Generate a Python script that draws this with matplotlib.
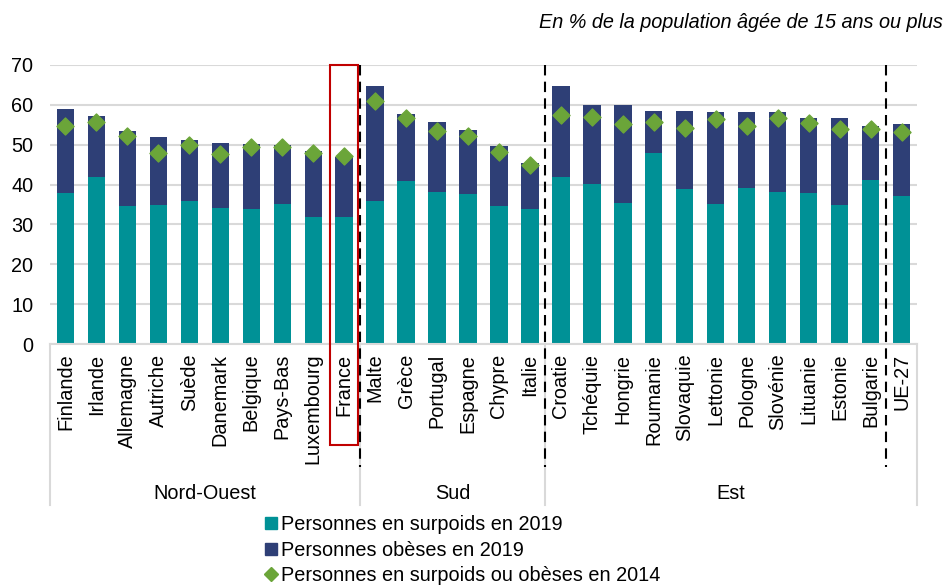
import matplotlib.pyplot as plt
from matplotlib.lines import Line2D
from matplotlib.patches import Rectangle
import matplotlib.transforms as mtransforms

plt.rcParams['font.family'] = ['Liberation Sans', 'DejaVu Sans']

# data
pays = ["Finlande", "Irlande", "Allemagne", "Autriche", "Suède", "Danemark",
        "Belgique", "Pays-Bas", "Luxembourg", "France",
        "Malte", "Grèce", "Portugal", "Espagne", "Chypre", "Italie",
        "Croatie", "Tchéquie", "Hongrie", "Roumanie", "Slovaquie", "Lettonie",
        "Pologne", "Slovénie", "Lituanie", "Estonie", "Bulgarie", "UE-27"]
surpoids_2019 = [38.0, 41.8, 34.5, 35.0, 36.0, 34.0, 33.9, 35.2, 31.9, 31.9,
                 36.0, 41.0, 38.2, 37.7, 34.5, 33.9,
                 41.8, 40.1, 35.3, 47.8, 38.9, 35.2, 39.1, 38.2, 37.9, 34.9, 41.2, 37.2]
total_2019 = [58.9, 57.1, 53.5, 52.0, 51.2, 50.4, 50.1, 49.9, 48.4, 46.9,
              64.8, 57.7, 55.8, 53.8, 49.7, 45.5,
              64.7, 59.9, 59.9, 58.5, 58.5, 58.3, 58.1, 58.1, 56.8, 56.7, 54.7, 55.2]
obeses_2019 = [t - s for t, s in zip(total_2019, surpoids_2019)]
total_2014 = [54.6, 55.7, 52.1, 47.9, 49.9, 47.7, 49.4, 49.4, 47.9, 47.1,
              60.9, 56.7, 53.5, 52.3, 48.2, 44.8,
              57.4, 57.0, 55.2, 55.7, 54.3, 56.4, 54.6, 56.6, 55.5, 54.0, 53.9, 53.1]

groupes = ["Nord-Ouest", "Sud", "Est"]
bornes = [-0.5, 9.5, 15.5, 27.5]

teal = "#009196"
navy = "#2E3F76"
green = "#6BA539"
grid = "#D9D9D9"
fs = 14.3

fig = plt.figure(figsize=(9.49, 5.86), dpi=100)
ax = fig.add_axes([50 / 949, 1 - 344 / 586, 867 / 949, 279 / 586])

x = list(range(len(pays)))
ax.bar(x, surpoids_2019, width=0.56, color=teal, zorder=2)
ax.bar(x, obeses_2019, width=0.56, bottom=surpoids_2019, color=navy, zorder=2)
ax.scatter(x, total_2014, marker="D", s=75, color=green, zorder=3)

ax.set_xlim(-0.5, len(pays) - 0.5)
ax.set_ylim(0, 70)
ax.set_yticks(range(0, 71, 10))
ax.yaxis.grid(True, color=grid, linewidth=1.5, zorder=0)
ax.set_axisbelow(True)
for s in ["top", "right", "left"]:
    ax.spines[s].set_visible(False)
ax.spines["bottom"].set_color(grid)
ax.spines["bottom"].set_linewidth(1.5)
ax.tick_params(axis="y", length=0, labelsize=fs, pad=12)
ax.tick_params(axis="x", length=0, labelsize=fs, pad=7)
ax.set_xticks(x)
ax.set_xticklabels(pays, rotation=90, va="top", ha="center")

# group separators and labels below the axis
trans = mtransforms.blended_transform_factory(ax.transData, ax.transAxes)
for b in bornes:
    ax.plot([b, b], [0, -0.577], color=grid, lw=1.5, transform=trans, clip_on=False)
for g, a, b in zip(groupes, bornes[:-1], bornes[1:]):
    ax.text((a + b) / 2, -0.535, g, transform=trans, ha="center", va="center",
            fontsize=fs)

# dashed region dividers
for b in [9.5, 15.5, 26.5]:
    ax.plot([b, b], [1.0, -0.441], color="black", lw=1.5, ls=(0, (5, 3)),
            transform=trans, clip_on=False, zorder=4)

# highlight France
ax.add_patch(Rectangle((8.55, -0.362), 0.9, 1.362, transform=trans, fill=False,
                       edgecolor="#C00000", lw=1.5, clip_on=False, zorder=5))

fig.text(943 / 949, 1 - 22 / 586, "En % de la population âgée de 15 ans ou plus",
         ha="right", va="center", style="italic", fontsize=fs)

handles = [
    Line2D([], [], marker="s", ls="", color=teal, markersize=8.5),
    Line2D([], [], marker="s", ls="", color=navy, markersize=8.5),
    Line2D([], [], marker="D", ls="", color=green, markersize=7),
]
labels = ["Personnes en surpoids en 2019", "Personnes obèses en 2019",
          "Personnes en surpoids ou obèses en 2014"]
fig.legend(handles, labels, loc="upper left", bbox_to_anchor=(265 / 949, 1 - 515 / 586),
           frameon=False, fontsize=fs, handlelength=0.6, handletextpad=0.2,
           labelspacing=0.33, borderpad=0, borderaxespad=0)

plt.savefig("out.png", dpi=100)
